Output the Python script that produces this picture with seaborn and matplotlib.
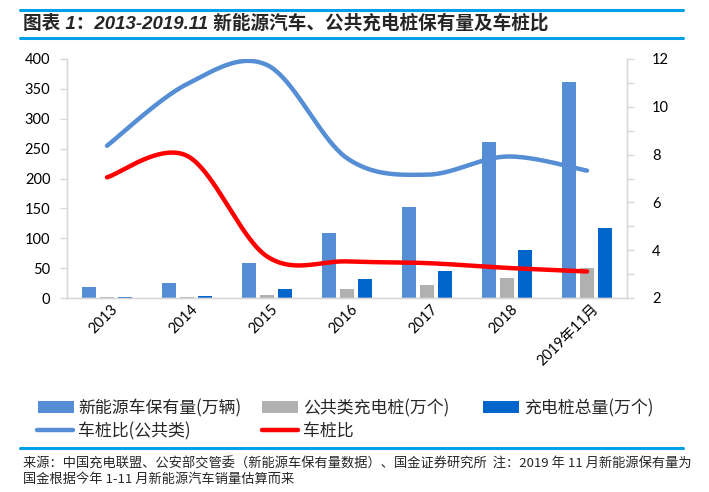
import numpy as np
import pandas as pd
import matplotlib
matplotlib.use("Agg")
import matplotlib.pyplot as plt
import matplotlib.transforms as mtransforms
from matplotlib.patches import Patch
from matplotlib.lines import Line2D
import seaborn as sns

# ---------------- data ----------------
categories = ["2013", "2014", "2015", "2016", "2017", "2018", "2019年11月"]
ev_stock = [17.8, 25.6, 58.6, 109, 153, 261, 362]          # 新能源车保有量(万辆)
public_piles = [1.5, 2.2, 5.5, 15, 22, 33.4, 50.2]          # 公共类充电桩(万个)
total_piles = [2.5, 3.5, 15.6, 31.8, 45, 80.8, 117.7]       # 充电桩总量(万个)
ratio_public = [8.37, 10.95, 11.75, 7.85, 7.16, 7.92, 7.33]  # 车桩比(公共类)
ratio_total = [7.05, 7.95, 3.74, 3.53, 3.46, 3.26, 3.11]     # 车桩比

bar_names = ["新能源车保有量(万辆)", "公共类充电桩(万个)", "充电桩总量(万个)"]
line_names = ["车桩比(公共类)", "车桩比"]
left_ticks = list(range(0, 401, 50))
right_ticks = list(range(2, 13, 2))

title = "图表 1：2013-2019.11 新能源汽车、公共充电桩保有量及车桩比"
source1 = "来源：中国充电联盟、公安部交管委（新能源车保有量数据）、国金证券研究所  注：2019 年 11 月新能源保有量为"
source2 = "国金根据今年 1-11 月新能源汽车销量估算而来"

# ---------------- style ----------------
sns.set_theme(style="white")
plt.rcParams["font.family"] = ["Lato", "Noto Sans CJK SC", "DejaVu Sans"]

C_EV = "#558ED5"
C_PUB = "#B0B0B0"
C_TOT = "#0066CC"
C_LINE1 = "#558ED5"
C_LINE2 = "#FF0000"
C_RULE = "#00A0E9"
C_AX = "#D9D9D9"

W, H = 709, 492
fig = plt.figure(figsize=(W / 100, H / 100), dpi=100)
fig.patch.set_facecolor("white")

def fx(px):
    return px / W

def fy(py):
    return 1 - py / H

ax = fig.add_axes([fx(67), fy(298), fx(627) - fx(67), fy(59) - fy(298)])

# bars
df = pd.DataFrame({
    "cat": categories * 3,
    "series": [bar_names[0]] * 7 + [bar_names[1]] * 7 + [bar_names[2]] * 7,
    "value": ev_stock + public_piles + total_piles,
})
sns.barplot(data=df, x="cat", y="value", hue="series", hue_order=bar_names,
            palette=[C_EV, C_PUB, C_TOT], saturation=1, width=0.667, gap=0.22,
            ax=ax, legend=False, linewidth=0)

ax.set_xlim(-0.5, 6.5)
ax.set_ylim(0, 400)
ax.set_yticks(left_ticks)
ax.set_xlabel("")
ax.set_ylabel("")

# lines with Excel-like smoothing (Catmull-Rom / Bezier)
def smooth(yvals, n=40):
    P = np.column_stack([np.arange(len(yvals), dtype=float), np.asarray(yvals, float)])
    xs, ys = [], []
    for i in range(len(P) - 1):
        p0 = P[i - 1] if i > 0 else P[i]
        p1 = P[i]
        p2 = P[i + 1]
        p3 = P[i + 2] if i + 2 < len(P) else P[i + 1]
        c1 = p1 + (p2 - p0) / 6
        c2 = p2 - (p3 - p1) / 6
        t = np.linspace(0, 1, n, endpoint=(i == len(P) - 2))[:, None]
        b = (1 - t) ** 3 * p1 + 3 * (1 - t) ** 2 * t * c1 + 3 * (1 - t) * t ** 2 * c2 + t ** 3 * p2
        xs.append(b[:, 0]); ys.append(b[:, 1])
    return np.concatenate(xs), np.concatenate(ys)

ax2 = ax.twinx()
for vals, col in [(ratio_public, C_LINE1), (ratio_total, C_LINE2)]:
    sx, sy = smooth(vals)
    sns.lineplot(x=sx, y=sy, ax=ax2, color=col, linewidth=3.2, sort=False,
                 estimator=None, legend=False)
ax2.set_ylim(2, 12)
ax2.set_yticks(right_ticks)
ax2.set_yticks(range(3, 12, 2), minor=True)
ax2.set_xlim(-0.5, 6.5)
ax2.set_ylabel("")

# spines & ticks
for a in (ax, ax2):
    for s in a.spines.values():
        s.set_color(C_AX)
        s.set_linewidth(1)
    a.spines["top"].set_visible(False)

ax.tick_params(axis="y", which="major", direction="out", length=5, width=1,
               color=C_AX, labelsize=10.5, labelcolor="black", pad=7, left=True)
ax.tick_params(axis="x", length=0, labelsize=10.5, labelcolor="black", pad=3)
ax2.tick_params(axis="y", which="both", direction="out", length=5, width=1,
                color=C_AX, labelsize=10.5, labelcolor="black", pad=13, right=True)

ax.set_xticks(range(len(categories)))
ax.set_xticklabels(categories, rotation=45, ha="right", va="top",
                   rotation_mode="anchor")
offset = mtransforms.ScaledTranslation(4 / 100, 0, fig.dpi_scale_trans)
for lab in ax.get_xticklabels():
    lab.set_transform(lab.get_transform() + offset)

# ---------------- title & rules ----------------
fig.add_artist(Line2D([fx(20), fx(683)], [fy(10), fy(10)], color=C_RULE, lw=2.2))
fig.add_artist(Line2D([fx(20), fx(683)], [fy(37.5), fy(37.5)], color=C_RULE, lw=2.2))
fig.text(fx(23), fy(23), title, fontsize=13.4, fontweight="bold", style="italic",
         family=["Liberation Sans", "Noto Sans CJK SC"], va="center", ha="left")

# ---------------- legend ----------------
leg_fs = 12.2
entries = [
    (Patch(facecolor=C_EV, edgecolor="none"), bar_names[0], 38, 408),
    (Patch(facecolor=C_PUB, edgecolor="none"), bar_names[1], 262, 408),
    (Patch(facecolor=C_TOT, edgecolor="none"), bar_names[2], 483, 408),
    (Line2D([], [], color=C_LINE1, lw=3.2), line_names[0], 37, 431),
    (Line2D([], [], color=C_LINE2, lw=3.2), line_names[1], 262, 431),
]
for h, lbl, px, py in entries:
    fig.legend([h], [lbl], loc="center left", bbox_to_anchor=(fx(px), fy(py)),
               frameon=False, borderpad=0, borderaxespad=0,
               handlelength=2.1, handleheight=0.68, handletextpad=0.3,
               prop={"family": ["Noto Sans CJK SC", "DejaVu Sans"], "size": leg_fs})

# ---------------- source ----------------
fig.add_artist(Line2D([fx(20), fx(683)], [fy(448), fy(448)], color=C_RULE, lw=2.2))
src_font = ["Noto Sans CJK SC", "DejaVu Sans"]
fig.text(fx(23), fy(464), source1, fontsize=9.5, family=src_font, va="center", ha="left")
fig.text(fx(23), fy(479), source2, fontsize=9.5, family=src_font, va="center", ha="left")

fig.savefig("out.png", dpi=100, facecolor="white")
